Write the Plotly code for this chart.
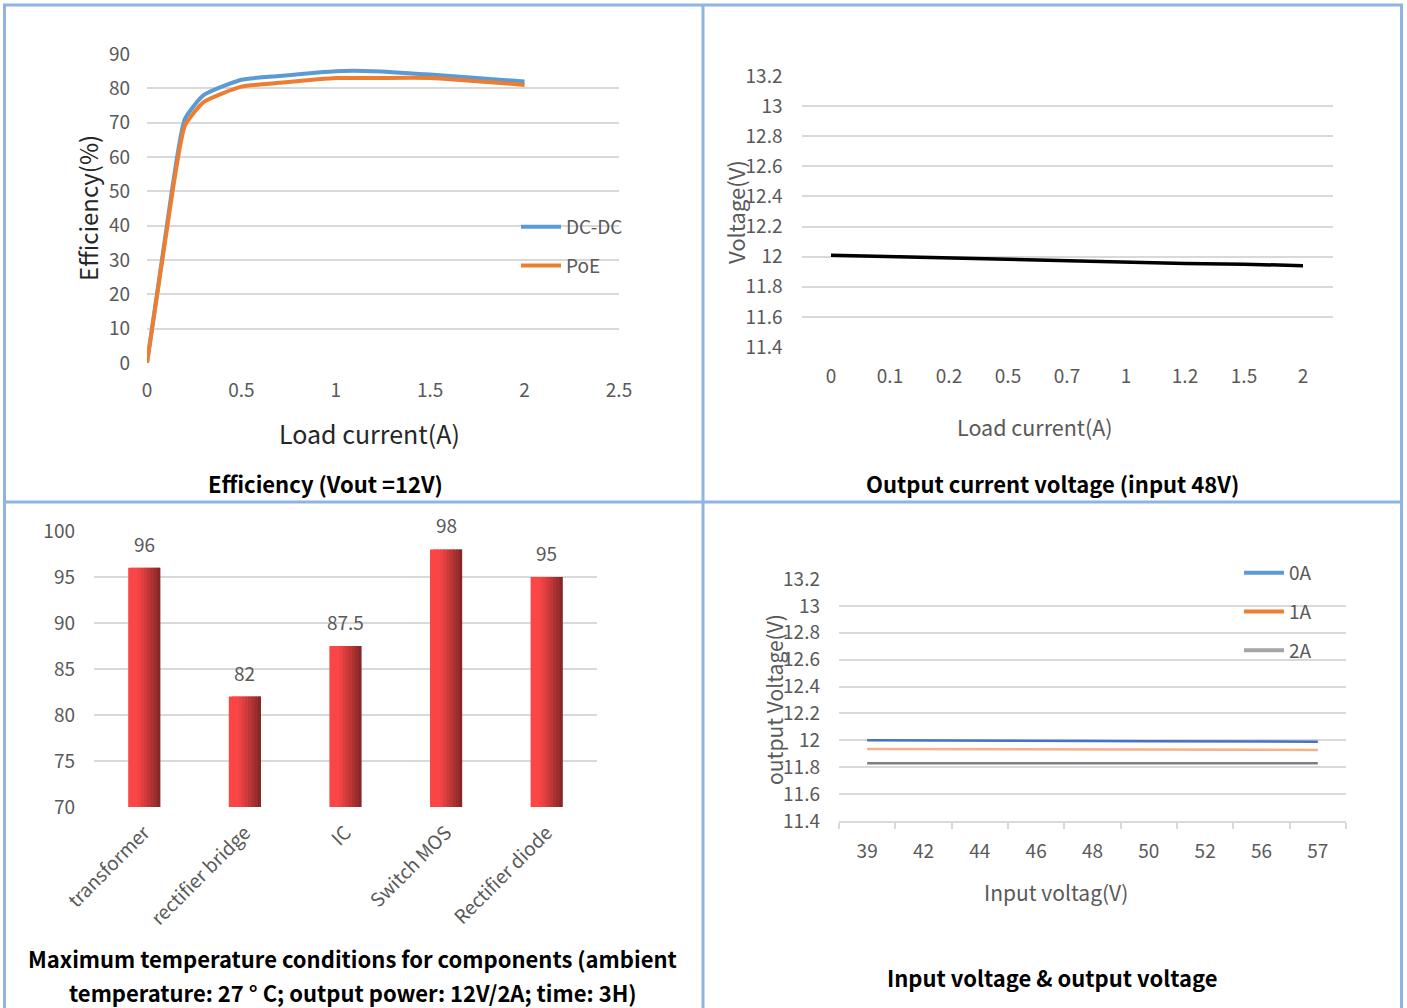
import plotly.graph_objects as go

W, H = 1407, 1008

# ---------------- data ----------------
eff_current = [0, 0.1, 0.2, 0.3, 0.5, 0.7, 1.0, 1.2, 1.5, 2.0]
eff_dcdc = [0, 38, 71, 78, 82.5, 83.6, 85, 85, 84, 82]
eff_poe = [0, 37, 69, 76, 80.5, 81.6, 83, 83, 83, 81]

load_cats = ["0", "0.1", "0.2", "0.5", "0.7", "1", "1.2", "1.5", "2"]
load_voltage = [12.01, 12.0, 11.99, 11.98, 11.975, 11.965, 11.955, 11.95, 11.94]

components = ["transformer", "rectifier bridge", "IC", "Switch MOS", "Rectifier diode"]
temps = [96, 82, 87.5, 98, 95]

vin_cats = ["39", "42", "44", "46", "48", "50", "52", "56", "57"]
vout_0a = [12.0, 12.0, 11.998, 11.996, 11.995, 11.994, 11.993, 11.992, 11.99]
vout_1a = [11.935, 11.935, 11.934, 11.933, 11.932, 11.931, 11.93, 11.93, 11.928]
vout_2a = [11.83, 11.83, 11.83, 11.83, 11.83, 11.83, 11.83, 11.83, 11.83]

volt_ticks = [11.4, 11.6, 11.8, 12, 12.2, 12.4, 12.6, 12.8, 13, 13.2]
volt_ticktext = ["11.4", "11.6", "11.8", "12", "12.2", "12.4", "12.6", "12.8", "13", "13.2"]

# ---------------- styles ----------------
FONT = "Noto Sans CJK SC"
TICK = dict(family=FONT, size=19, color="#595959")
GRID = "#D9D9D9"
BORDER = "#8DB4E2"


def px(x):
    return x / W


def py(y):
    return 1 - y / H


fig = go.Figure()

# ---- panel 1: efficiency ----
fig.add_trace(go.Scatter(x=eff_current, y=eff_dcdc, mode="lines", name="DC-DC",
                         line=dict(color="#5B9BD5", width=4, shape="spline", smoothing=0.5),
                         xaxis="x", yaxis="y", legend="legend", legendgroup="a"))
fig.add_trace(go.Scatter(x=eff_current, y=eff_poe, mode="lines", name="PoE",
                         line=dict(color="#ED7D31", width=4, shape="spline", smoothing=0.5),
                         xaxis="x", yaxis="y", legend="legend", legendgroup="b"))

# ---- panel 2: output voltage vs load ----
fig.add_trace(go.Scatter(x=load_cats, y=load_voltage, mode="lines", showlegend=False,
                         line=dict(color="#000000", width=3.5), xaxis="x2", yaxis="y2"))

# ---- panel 3: temperatures (gradient bars via overlapping slices) ----
n_slices = 10
bw = 0.32
left = (250, 70, 70)
right = (135, 40, 40)
for i in range(n_slices):
    t = i / (n_slices - 1)
    tt = max(0.0, (t - 0.25) / 0.75) ** 1.1
    c = tuple(int(round(left[k] + (right[k] - left[k]) * tt)) for k in range(3))
    off = -bw / 2 + i * bw / n_slices
    wdt = min(bw / n_slices * 1.8, bw / 2 - off)
    fig.add_trace(go.Bar(x=components, y=temps, width=wdt, offset=off,
                         marker=dict(color="rgb(%d,%d,%d)" % c, line=dict(width=0)),
                         showlegend=False, xaxis="x3", yaxis="y3", hoverinfo="x+y"))

# ---- panel 4: input vs output voltage ----
fig.add_trace(go.Scatter(x=vin_cats, y=vout_0a, mode="lines", showlegend=False,
                         line=dict(color="#4472C4", width=2.5), xaxis="x4", yaxis="y4"))
fig.add_trace(go.Scatter(x=vin_cats, y=vout_1a, mode="lines", showlegend=False,
                         line=dict(color="#F6B08A", width=2.5), xaxis="x4", yaxis="y4"))
fig.add_trace(go.Scatter(x=vin_cats, y=vout_2a, mode="lines", showlegend=False,
                         line=dict(color="#7F7F7F", width=2.5), xaxis="x4", yaxis="y4"))
for nm, col, g in [("0A", "#5B9BD5", "c"), ("1A", "#ED7D31", "d"), ("2A", "#A5A5A5", "e")]:
    fig.add_trace(go.Scatter(x=[None], y=[None], mode="lines", name=nm,
                             line=dict(color=col, width=4), xaxis="x4", yaxis="y4",
                             legend="legend2", legendgroup=g))

annotations = []
for c, v in zip(components, temps):
    annotations.append(dict(x=c, y=v, xref="x3", yref="y3", text=("%g" % v), showarrow=False,
                            yanchor="bottom", yshift=9, font=TICK))


def ann(text, x, y, size, color, bold=False, angle=0):
    t = "<b>%s</b>" % text if bold else text
    annotations.append(dict(text=t, x=px(x), y=py(y), xref="paper", yref="paper",
                            showarrow=False, xanchor="center", yanchor="middle",
                            textangle=angle, font=dict(family=FONT, size=size, color=color)))


# axis titles
ann("Load current(A)", 369, 433, 25, "#262626")
ann("Efficiency(%)", 88, 208, 24, "#262626", angle=-90)
ann("Load current(A)", 1035, 426, 21.5, "#595959")
ann("Voltage(V)", 735, 212, 22, "#595959", angle=-90)
ann("Input voltag(V)", 1056, 892, 21, "#595959")
ann("output Voltage(V)", 774, 700, 21, "#595959", angle=-90)

# captions
ann("Efficiency (Vout =12V)", 325, 483, 22, "#000000", bold=True)
ann("Output current voltage (input 48V)", 1052, 483, 22, "#000000", bold=True)
ann("Maximum temperature conditions for components (ambient", 353, 958, 22, "#000000", bold=True)
ann("temperature: 27 \u00b0 C; output power: 12V/2A; time: 3H)", 353, 992, 22, "#000000", bold=True)
ann("Input voltage &amp; output voltage", 1052, 977, 22, "#000000", bold=True)

# panel borders
shapes = []
for (x0, y0, x1, y1) in [(4.5, 5, 4.5, H), (1401.5, 5, 1401.5, H), (3, 5, 1403, 5),
                         (703, 5, 703, H), (3, 502, 1403, 502)]:
    shapes.append(dict(type="line", xref="paper", yref="paper", x0=px(x0), y0=py(y0),
                       x1=px(x1), y1=py(y1), line=dict(color=BORDER, width=3)))

common = dict(automargin=False, zeroline=False, fixedrange=True)

fig.update_layout(
    template="none",
    width=W, height=H, margin=dict(l=0, r=0, t=0, b=0, pad=0, autoexpand=False),
    paper_bgcolor="white", plot_bgcolor="white",
    font=dict(family=FONT, color="#595959"),
    showlegend=True, barmode="overlay",
    annotations=annotations, shapes=shapes,
    xaxis=dict(domain=[px(147), px(619)], range=[0, 2.5], dtick=0.5, showgrid=False,
               showline=False, ticks="", tickfont=TICK, ticklabelstandoff=14,
               anchor="y", **common),
    yaxis=dict(domain=[py(363), py(54)], range=[0, 90], dtick=10, showgrid=True, gridcolor=GRID,
               gridwidth=1.5, showline=False, ticks="", tickfont=TICK,
               ticklabelstandoff=16, anchor="x", **common),
    xaxis2=dict(domain=[px(801.5), px(1332.5)], type="category", range=[-0.5, 8.5],
                showgrid=False, showline=False, ticks="", tickfont=TICK, ticklabelstandoff=16,
                anchor="y2", **common),
    yaxis2=dict(domain=[py(347), py(76)], range=[11.4, 13.2], tickvals=volt_ticks,
                ticktext=volt_ticktext, showgrid=True, gridcolor=GRID, gridwidth=1.5,
                showline=False, ticks="", tickfont=TICK, ticklabelstandoff=18,
                anchor="x2", **common),
    xaxis3=dict(domain=[px(94), px(597)], type="category", showgrid=False,
                showline=False, ticks="", tickfont=TICK, tickangle=-45, ticklabelstandoff=10,
                anchor="y3", **common),
    yaxis3=dict(domain=[py(807), py(531)], range=[70, 100], dtick=5, showgrid=True, gridcolor=GRID,
                gridwidth=1.5, showline=False, ticks="", tickfont=TICK,
                ticklabelstandoff=18, anchor="x3", **common),
    xaxis4=dict(domain=[px(839), px(1346)], type="category", range=[-0.5, 8.5], showgrid=False,
                showline=True, linecolor=GRID, linewidth=1.5, ticks="outside", ticklen=6,
                tickcolor=GRID, tickwidth=1.5, tickson="boundaries", tickfont=TICK,
                ticklabelstandoff=12, anchor="y4", **common),
    yaxis4=dict(domain=[py(821), py(579)], range=[11.4, 13.2], tickvals=volt_ticks,
                ticktext=volt_ticktext, showgrid=True, gridcolor=GRID, gridwidth=1.5,
                showline=False, ticks="", tickfont=TICK, ticklabelstandoff=18,
                anchor="x4", **common),
    legend=dict(x=px(516), y=py(208), xanchor="left", yanchor="top", bgcolor="rgba(0,0,0,0)",
                font=TICK, tracegroupgap=11, itemwidth=40, borderwidth=0),
    legend2=dict(x=px(1239), y=py(554), xanchor="left", yanchor="top", bgcolor="rgba(0,0,0,0)",
                 font=TICK, tracegroupgap=11, itemwidth=40, borderwidth=0),
)

fig.write_html("out.html", config={"displayModeBar": False},
               post_script="document.body.style.margin='0px';document.body.style.overflow='hidden';")
